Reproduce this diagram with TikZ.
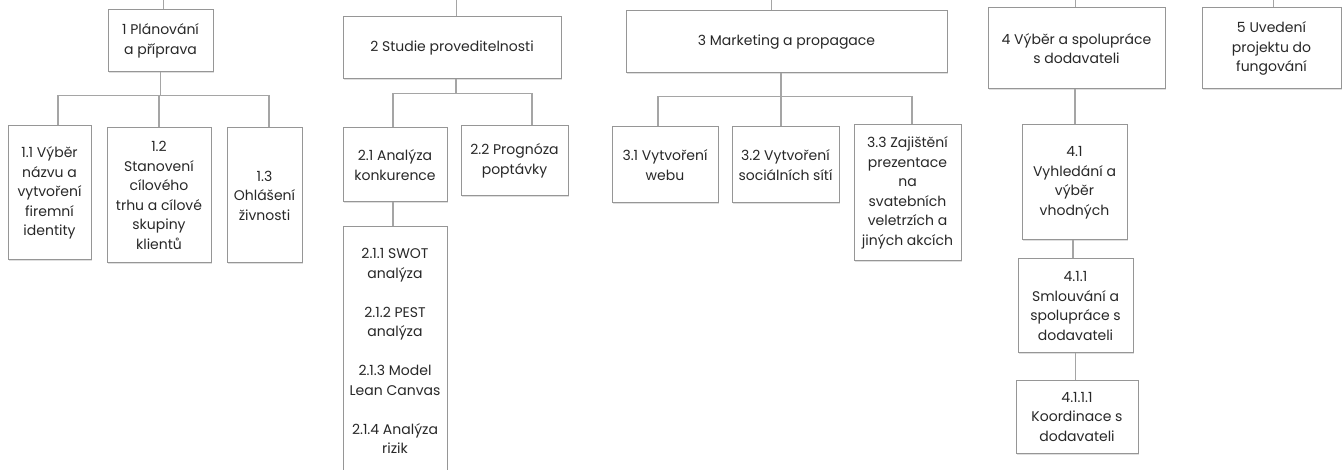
\documentclass[tikz,border=0pt]{standalone}
\usepackage{fontspec}
\setmainfont{Poppins}
\usetikzlibrary{shadows}
\definecolor{boxgray}{RGB}{150,150,150}
\definecolor{linegray}{RGB}{165,165,165}
\definecolor{textgray}{RGB}{40,40,40}
\tikzset{
  box/.style={draw=boxgray, line width=1pt, fill=white, align=center, inner sep=0pt,
    font=\fontsize{14}{19.5}\selectfont, text=textgray,
    drop shadow={shadow xshift=1pt, shadow yshift=-1.5pt, opacity=0.25, fill=gray}},
  conn/.style={draw=linegray, line width=1.8pt}
}
\begin{document}
\begin{tikzpicture}[x=1pt,y=-1pt]
\useasboundingbox (0,0) rectangle (1342,470);
% top-level boxes
\node[box, minimum width=105, minimum height=62] (b1) at (160.5,41) {1 Plánování\\a příprava};
\node[box, minimum width=218, minimum height=62] (b2) at (452,48) {2 Studie proveditelnosti};
\node[box, minimum width=321, minimum height=62] (b3) at (786.5,42) {3 Marketing a propagace};
\node[box, minimum width=177, minimum height=81] (b4) at (1076.5,48.5) {4 Výběr a spolupráce\\s dodavateli};
\node[box, minimum width=139, minimum height=81] (b5) at (1271.5,48.5) {5 Uvedení\\projektu do\\fungování};
% level 2 of 1
\node[box, minimum width=83, minimum height=134] (b11) at (49.5,193) {1.1 Výběr\\názvu a\\vytvoření\\firemní\\identity};
\node[box, minimum width=104, minimum height=135] (b12) at (159,195.5) {1.2\\Stanovení\\cílového\\trhu a cílové\\skupiny\\klientů};
\node[box, minimum width=75, minimum height=135] (b13) at (264.5,195.5) {1.3\\Ohlášení\\živnosti};
% level 2 of 2
\node[box, minimum width=104, minimum height=74] (b21) at (395,165) {2.1 Analýza\\konkurence};
\node[box, minimum width=107, minimum height=70] (b22) at (514.5,161) {2.2 Prognóza\\poptávky};
\node[box, minimum width=104, minimum height=248] (b211) at (395,351) {2.1.1 SWOT\\analýza\\[19.5pt]2.1.2 PEST\\analýza\\[19.5pt]2.1.3 Model\\Lean Canvas\\[19.5pt]2.1.4 Analýza\\rizik};
% level 2 of 3
\node[box, minimum width=106, minimum height=76] (b31) at (665,165) {3.1 Vytvoření\\webu};
\node[box, minimum width=107, minimum height=76] (b32) at (785.5,165) {3.2 Vytvoření\\sociálních sítí};
\node[box, minimum width=107, minimum height=136] (b33) at (907.5,193) {3.3 Zajištění\\prezentace\\na\\svatebních\\veletrzích a\\jiných akcích};
% level 2+ of 4
\node[box, minimum width=105, minimum height=115] (b41) at (1074.5,182.5) {4.1\\Vyhledání a\\výběr\\vhodných};
\node[box, minimum width=115, minimum height=94] (b411) at (1075.5,306) {4.1.1\\Smlouvání a\\spolupráce s\\dodavateli};
\node[box, minimum width=122, minimum height=72] (b4111) at (1077,417) {4.1.1.1\\Koordinace s\\dodavateli};
% stubs to the (cropped) root
\coordinate (t1) at (163,0);
\coordinate (t2) at (456,0);
\coordinate (t3) at (771,0);
\coordinate (t4) at (1075,0);
\coordinate (t5) at (1273,0);
\draw[conn, line width=1pt] (t1) -- (t1 |- b1.north);
\draw[conn, line width=1pt] (t2) -- (t2 |- b2.north);
\draw[conn, line width=1pt] (t3) -- (t3 |- b3.north);
\draw[conn, line width=1pt] (t4) -- (t4 |- b4.north);
\draw[conn, line width=1pt] (t5) -- (t5 |- b5.north);
% connectors group 1
\draw[conn] (b1.south) -- ++(0,23) -| ([xshift=8.5]b11.north);
\draw[conn] (b1.south) -- ++(0,23) -| (b12.north);
\draw[conn] (b1.south) -- ++(0,23) -| ([xshift=4.5]b13.north);
% group 2
\draw[conn] ([xshift=4]b2.south) -- ++(0,14) -| ([xshift=-2]b21.north);
\draw[conn] ([xshift=4]b2.south) -- ++(0,14) -| ([xshift=17.5]b22.north);
\draw[conn] ([xshift=-2]b21.south) -- ([xshift=-2]b211.north);
% group 3
\draw[conn] ([xshift=-5.5]b3.south) -- ++(0,23) -| ([xshift=-7]b31.north);
\draw[conn] ([xshift=-5.5]b3.south) -- ++(0,23) -| ([xshift=-4.5]b32.north);
\draw[conn] ([xshift=-5.5]b3.south) -- ++(0,23) -| ([xshift=4.5]b33.north);
% group 4
\draw[conn] ([xshift=-1.5]b4.south) -- ([xshift=-1.5]b4.south |- b41.north);
\draw[conn] ([xshift=-1.5]b41.south) -- ([xshift=-1.5]b41.south |- b411.north);
\draw[conn] (b411.south) -- (b411.south |- b4111.north);
\end{tikzpicture}
\end{document}
